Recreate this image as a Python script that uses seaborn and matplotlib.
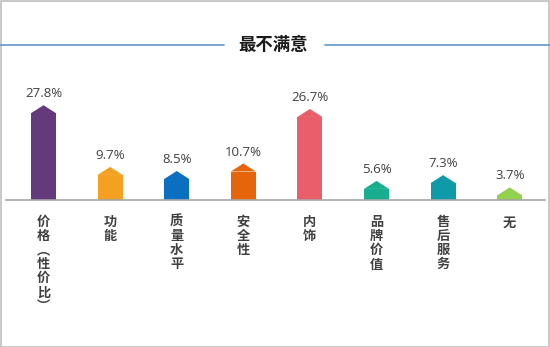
import matplotlib
matplotlib.use("Agg")
import matplotlib.pyplot as plt
from matplotlib.patches import Polygon, Rectangle
from matplotlib.lines import Line2D
import seaborn as sns
import pandas as pd

categories = ["价格（性价比）", "功能", "质量水平", "安全性", "内饰", "品牌价值", "售后服务", "无"]
tick_labels = ["价\n格\n︵\n性\n价\n比\n︶", "功\n能", "质\n量\n水\n平", "安\n全\n性", "内\n饰", "品\n牌\n价\n值", "售\n后\n服\n务", "无"]
values = [27.8, 9.7, 8.5, 10.7, 26.7, 5.6, 7.3, 3.7]
colors = ["#633A7C", "#F4A020", "#0A6FC0", "#E6650A", "#E95E6A", "#17AE90", "#0E9AA8", "#92D050"]
title = "最不满意"

sns.set_theme(style="white")
plt.rcParams['font.family'] = ['Noto Sans CJK SC', 'DejaVu Sans']

W, H = 550, 347
fig = plt.figure(figsize=(W / 100, H / 100), dpi=100)
fig.patch.set_facecolor("white")

px_per_unit = 3.41
ymax = 30
ax_h = ymax * px_per_unit
ax = fig.add_axes([6 / W, (H - 200) / H, 539 / W, ax_h / H])

roof = 8 / px_per_unit
df = pd.DataFrame({"cat": categories, "body": [v - roof for v in values]})
sns.barplot(data=df, x="cat", y="body", hue="cat", palette=colors, order=categories,
            hue_order=categories, width=0.375, saturation=1, legend=False,
            linewidth=0, ax=ax)

for p, v in zip(ax.patches, values):
    x0, w, h = p.get_x(), p.get_width(), p.get_height()
    ax.add_patch(Polygon([(x0, h), (x0 + w / 2, v), (x0 + w, h)], closed=True,
                         facecolor=p.get_facecolor(), edgecolor="none", lw=0))

for i, v in enumerate(values):
    ax.text(i, v + 8 / px_per_unit, f"{v}%", ha="center", va="baseline",
            fontsize=9.5, color="#404040", family=["Open Sans", "DejaVu Sans"])

ax.set_xlim(-0.563, 7.53)
ax.set_ylim(0, ymax)
ax.set_xticks(range(len(categories)))
ax.set_xticklabels(tick_labels, va="top", linespacing=1.0, fontsize=9.5,
                   color="#404040", fontweight="bold")
ax.tick_params(axis="x", length=0, pad=11)
ax.set_yticks([])
ax.set_xlabel("")
ax.set_ylabel("")
for s in ["top", "left", "right"]:
    ax.spines[s].set_visible(False)
ax.spines["bottom"].set_color("#A6A6A6")
ax.spines["bottom"].set_linewidth(1.2)

# title with decorative lines
ty = 1 - 45 / H
fig.text(273 / W, ty, title, ha="center", va="center", fontsize=12.5,
         fontweight="bold", color="#1a1a1a")
fig.add_artist(Line2D([0, 224 / W], [ty, ty], color="#6A9FCF", lw=1.3,
                      transform=fig.transFigure))
fig.add_artist(Line2D([325 / W, 1], [ty, ty], color="#6A9FCF", lw=1.3,
                      transform=fig.transFigure))

# outer frame
fig.add_artist(Rectangle((0.5 / W, 0.5 / H), 1 - 1.5 / W, 1 - 1.5 / H,
                         transform=fig.transFigure, fill=False,
                         edgecolor="#BFBFBF", lw=1.2))

fig.savefig("out.png", dpi=100, facecolor="white")
